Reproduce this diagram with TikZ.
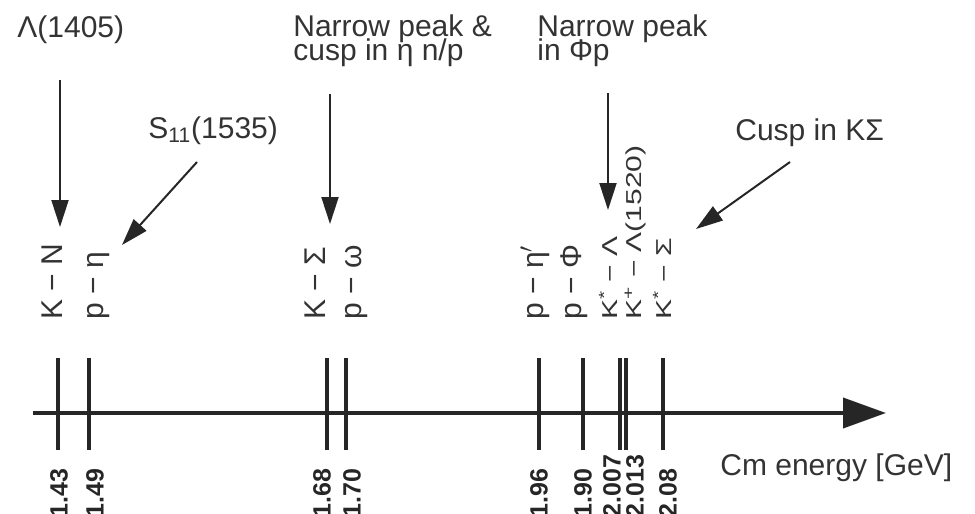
\documentclass[tikz,border=0pt]{standalone}
\usepackage{fontspec}
\setmainfont{Liberation Sans}
\usetikzlibrary{arrows.meta}

\begin{document}
\begin{tikzpicture}[x=0.5pt, y=-0.5pt,
    txt/.style={inner sep=0, anchor=base west, text=black!80,
      font=\fontsize{15}{18}\selectfont},
    plab/.style={txt, rotate=90},
    vlab/.style={inner sep=0, anchor=west, rotate=90, text=black!85,
      font=\fontsize{12.5}{14}\selectfont\bfseries},
    pointer/.style={draw=black!85, line width=1pt,
      -{Triangle[length=13.5pt,width=8.5pt]}},
    tick/.style={draw=black!85, line width=1.75pt}]
  \useasboundingbox (0,0) rectangle (975,514);
  % energy axis
  \coordinate (axs) at (33,413);
  \coordinate (axe) at (886,413);
  \draw[black!85, line width=2pt, -{Triangle[length=21.5pt,width=15pt]}] (axs) -- (axe);
  \node[txt] (cme) at (720,475) {Cm energy [GeV]};
  % thresholds and their values
  \foreach \tx/\lx/\val [count=\i] in {58/59/1.43, 89/95/1.49, 327/322/1.68,
      346/352/1.70, 539/539/1.96, 583/583/1.90, 620/612/2.007,
      626/635/2.013, 663/668/2.08}{
    \draw[tick] (\tx,358) -- (\tx,450);
    \node[vlab] (v\i) at (\lx,518) {\val};
  }
  % channels
  \node[plab] (kn)    at (62,320)  {K − N};
  \node[plab] (peta)  at (103,320) {p − η};
  \node[plab] (ksig)  at (325,320) {K − Σ};
  \node[plab] (pom)   at (361,320) {p − ω};
  \node[plab] (petap) at (543,320) {p − η$'$};
  \node[plab] (pphi)  at (581,320) {p − Φ};
  \node[plab, yscale=0.72] (kslam) at (617,320) {K\textsuperscript{*} − Λ};
  \node[plab, yscale=0.72] (kplam) at (641,320) {K\textsuperscript{+} − Λ(1520)};
  \node[plab, yscale=0.72] (kssig) at (671,320) {K\textsuperscript{*} − Σ};
  % remarks
  \node[txt] (lam) at (17,37) {Λ(1405)};
  \node[txt] (s11) at (148,138) {S\textsubscript{11}(1535)};
  \node[txt] (npeta1) at (293,36) {Narrow peak \&};
  \node[txt] (npeta2) at (293,61) {cusp in η n/p};
  \node[txt] (npphi1) at (537,36) {Narrow peak};
  \node[txt] (npphi2) at (537,61) {in Φp};
  \node[txt] (cks) at (735,140) {Cusp in KΣ};
  % pointers
  \coordinate (lamfrom) at (60,80);    \coordinate (lamto) at (60,227);
  \coordinate (s11from) at (197,162);  \coordinate (s11to) at (122,245);
  \coordinate (etafrom) at (330,94);   \coordinate (etato) at (330,224);
  \coordinate (phifrom) at (608,93);   \coordinate (phito) at (608,210);
  \coordinate (cksfrom) at (790,162);  \coordinate (cksto) at (696,229);
  \draw[pointer] (lamfrom) -- (lamto);
  \draw[pointer] (s11from) -- (s11to);
  \draw[pointer] (etafrom) -- (etato);
  \draw[pointer] (phifrom) -- (phito);
  \draw[pointer] (cksfrom) -- (cksto);
\end{tikzpicture}
\end{document}
